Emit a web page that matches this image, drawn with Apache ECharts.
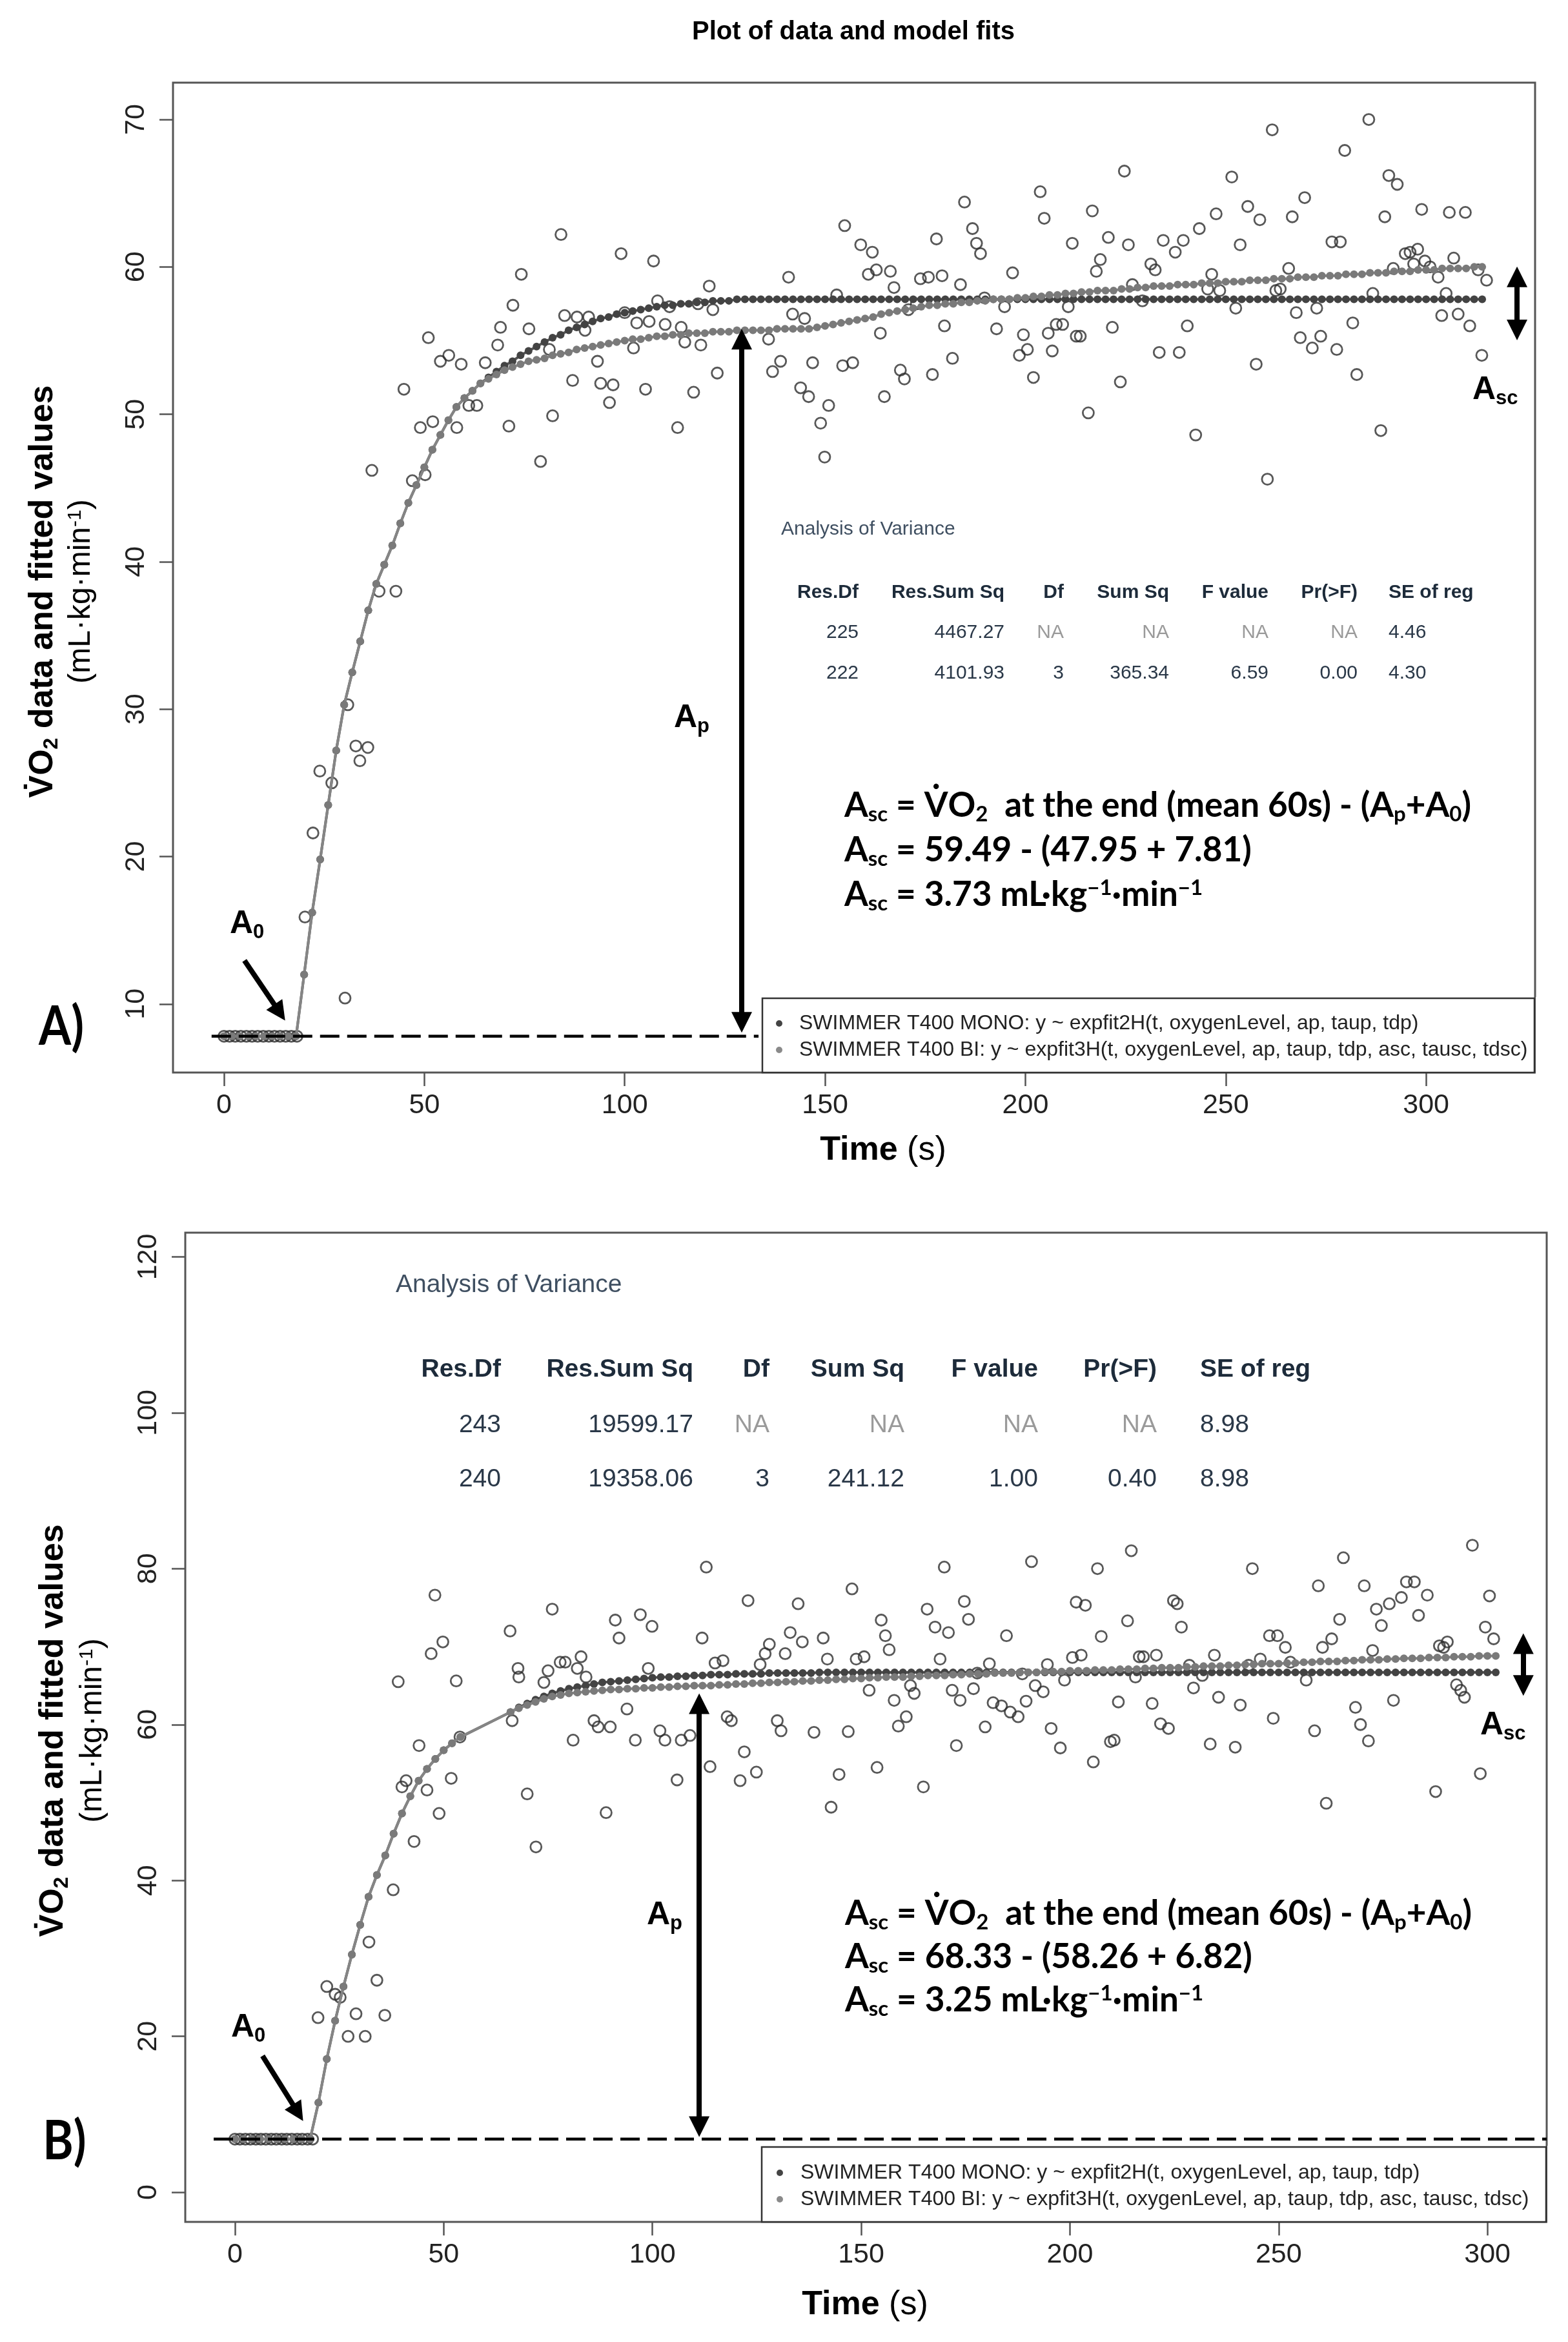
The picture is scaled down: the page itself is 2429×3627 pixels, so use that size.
<!DOCTYPE html>
<html><head><meta charset="utf-8">
<script src="https://cdn.jsdelivr.net/npm/echarts@6/dist/echarts.min.js"></script>
<style>html,body{margin:0;padding:0;background:#fff}#c{width:2429px;height:3627px}</style>
</head><body><div id="c"></div>
<script>
// ---------------- DATA ----------------
// Panel A observed VO2 (time s, value)
const tA = [0,1.4,2.8,4.2,5.6,7.0,8.4,9.8,11.2,12.6,14.0,15.4,16.8,18.2,
20.2,22.2,23.9,26.9,30.2,30.9,32.9,33.9,35.9,36.9,38.7,42.9,44.9,47.0,49.0,50.2,51.0,52.1,54.0,56.1,58.1,59.2,
61.1,63.1,65.2,68.3,69.0,71.1,72.1,74.2,76.1,79.0,81.2,82.0,84.1,85.0,87.0,88.1,90.1,91.0,93.2,94.0,96.2,97.1,99.1,
100.0,102.2,103.0,105.2,106.1,107.2,108.2,110.1,111.2,113.2,114.1,115.0,117.2,118.3,119.0,121.1,122.0,123.1,
135.9,136.9,138.9,140.9,141.9,143.9,144.9,145.9,146.9,148.9,149.9,150.9,152.9,154.4,154.9,156.9,158.9,
160.8,161.8,162.8,163.8,164.8,166.3,167.2,168.8,169.8,170.8,172.8,173.8,175.8,176.8,177.8,179.2,179.8,181.8,183.8,
184.8,186.8,187.8,188.8,189.8,192.8,194.8,196.8,198.5,199.5,200.5,202.0,203.7,204.7,205.7,206.7,207.7,209.3,
210.7,211.7,212.7,213.7,215.7,216.7,217.7,218.7,220.7,221.7,223.7,224.7,225.7,226.7,229.2,231.3,232.4,233.4,234.4,
237.4,238.4,239.4,240.4,242.5,243.4,245.5,246.5,247.6,248.5,251.5,252.5,253.6,255.5,257.6,258.5,260.4,261.6,262.5,
263.6,265.7,266.6,267.6,268.6,269.7,271.6,272.7,273.7,276.5,277.7,278.6,279.7,281.7,282.7,285.7,286.7,288.7,289.7,
290.7,291.8,292.8,294.8,296.0,296.9,297.9,298.9,299.7,301.0,303.0,303.9,305.0,305.8,306.9,308.0,309.8,310.9,313.0,313.9,315.1];
const vA = [7.81,7.81,7.81,7.81,7.81,7.81,7.81,7.81,7.81,7.81,7.81,7.81,7.81,7.81,
15.9,21.6,25.8,25.0,10.4,30.3,27.5,26.5,27.4,46.2,38.0,38.0,51.7,45.5,49.1,45.9,55.2,49.5,53.6,54.0,49.1,53.4,
50.6,50.6,53.5,54.7,55.9,49.2,57.4,59.5,55.8,46.8,54.4,49.9,62.2,56.7,52.3,56.6,55.7,56.6,53.6,52.1,50.8,52.0,60.9,
56.9,54.5,56.2,51.7,56.3,60.4,57.7,56.1,57.3,49.1,55.9,54.9,51.5,57.5,54.7,58.7,57.1,52.8,
55.1,52.9,53.6,59.3,56.8,51.8,56.5,51.2,53.5,49.4,47.1,50.6,58.1,53.3,62.8,53.5,61.5,
59.5,61.0,59.8,55.5,51.2,59.7,58.6,53.0,52.4,57.1,57.5,59.2,59.3,52.7,61.9,59.4,56.0,53.8,58.8,
64.4,62.6,61.6,60.9,57.9,55.8,57.3,59.6,54.0,55.4,54.4,52.5,65.1,63.3,55.5,54.3,56.1,56.1,
57.3,61.6,55.3,55.3,50.1,63.8,59.7,60.5,62.0,55.9,52.2,66.5,61.5,58.8,57.7,60.2,59.8,54.2,61.8,
61.0,54.2,61.8,56.0,48.6,62.6,58.5,59.5,63.6,58.4,66.1,57.2,61.5,64.1,53.4,63.2,45.6,69.3,58.4,
58.5,59.9,63.4,56.9,55.2,64.7,54.5,57.2,55.3,61.7,54.4,61.7,67.9,56.2,52.7,70.0,58.2,48.9,63.4,
66.2,59.9,65.6,60.9,61.0,60.2,61.2,63.9,60.4,60.0,59.3,56.7,58.2,63.7,60.6,56.8,63.7,56.0,59.8,54.0,59.1];

// Panel B observed VO2
const tB = [0,1.2,2.5,3.7,5.0,6.2,7.4,8.7,9.9,11.2,12.4,13.6,14.9,16.1,17.4,18.6,
19.9,22.0,24.0,25.2,27.1,29.0,31.2,32.1,34.0,35.9,37.9,39.1,40.0,41.0,42.9,44.1,46.0,47.0,47.9,48.9,49.8,51.8,53.0,53.9,
65.9,66.4,67.8,68.0,70.0,72.1,74.0,75.0,76.0,77.9,79.1,81.0,82.0,82.9,84.1,86.0,87.0,88.9,89.9,91.1,92.0,93.9,95.9,97.1,99.0,99.9,
101.8,103.0,105.9,106.9,109.0,111.9,112.9,113.8,115.0,116.9,117.9,118.9,121.0,122.0,122.9,124.9,125.8,127.0,128.0,129.9,
130.8,131.8,133.0,134.9,135.9,138.7,140.9,141.9,142.8,144.7,146.9,147.8,148.8,150.7,151.9,153.8,154.8,155.8,156.7,157.9,158.9,
160.8,161.8,162.7,164.9,165.8,167.7,168.9,169.9,170.9,171.8,172.8,173.7,174.7,175.7,176.9,177.8,179.7,180.7,181.6,183.6,184.8,
185.7,187.6,188.6,189.5,190.8,191.7,193.6,194.6,195.5,197.7,198.7,200.6,201.5,202.7,203.7,205.6,206.6,207.5,209.7,210.6,211.6,
213.8,214.7,215.7,216.6,217.6,219.7,220.7,221.7,223.6,224.8,225.7,226.7,228.6,229.6,231.7,233.6,234.6,235.6,239.6,240.8,242.8,
243.7,245.6,247.8,248.7,249.7,251.6,252.8,256.6,258.6,259.5,260.5,261.4,262.7,264.6,265.5,268.4,269.6,270.5,271.5,272.5,273.4,
274.6,276.5,277.5,279.4,280.6,282.5,283.5,285.6,287.6,288.5,289.5,290.4,292.6,293.6,294.5,296.4,298.3,299.5,300.5,301.5];
const vB = [6.82,6.82,6.82,6.82,6.82,6.82,6.82,6.82,6.82,6.82,6.82,6.82,6.82,6.82,6.82,6.82,
22.4,26.4,25.4,25.0,20.0,22.9,20.0,32.1,27.2,22.7,38.8,65.5,52.0,52.8,45.0,57.3,51.6,69.1,76.6,48.6,70.6,53.1,65.6,58.4,
72.0,60.5,67.2,66.1,51.1,44.3,65.4,66.9,74.8,68.0,68.0,58.0,67.2,68.7,66.1,60.5,59.7,48.7,59.7,73.4,71.1,62.0,58.0,74.1,67.2,72.6,
59.2,58.0,52.9,58.0,58.6,71.1,80.2,54.6,67.9,68.2,61.0,60.5,52.8,56.5,75.9,53.9,67.7,69.1,70.3,60.5,
59.2,69.1,71.8,75.5,70.6,59.0,71.1,68.4,49.4,53.6,59.1,77.4,68.4,68.7,64.4,54.5,73.4,71.4,69.6,63.1,59.8,
61.0,65.0,64.0,52.0,74.8,72.5,68.4,80.2,71.8,64.4,57.3,63.1,75.8,73.5,64.6,66.6,59.7,67.8,62.8,62.4,71.4,
61.6,61.0,66.5,63.0,80.9,65.0,64.2,67.7,59.5,57.0,65.7,68.6,75.7,68.9,75.3,55.2,80.0,71.3,57.8,58.0,62.9,
73.3,82.3,66.1,68.7,68.7,62.7,68.9,60.1,59.5,75.9,75.5,72.5,67.6,64.7,66.3,57.5,68.9,63.5,57.1,62.5,67.6,
80.0,68.4,71.4,60.8,71.4,69.9,68.0,65.7,59.2,77.8,69.9,49.9,71.0,73.5,81.4,62.2,60.0,77.8,57.9,69.5,74.8,
72.7,75.5,63.1,76.3,78.3,78.3,74.0,76.6,51.4,70.1,69.9,70.6,65.1,64.4,63.5,83.0,53.7,72.5,76.5,71.0];

// Fitted values, panel A (mono- and bi-exponential model)
const fitTA = [0,2,4,6,8,10,12,14,16,18,
20,22,24,26,28,30,32,34,36,38,
40,42,44,46,48,50,52,54,56,58,
60,62,64,66,68,70,72,74,76,78,
80,82,84,86,88,90,92,94,96,98,
100,102,104,106,108,110,112,114,116,118,
120,122,124,126,128,130,132,134,136,138,
140,142,144,146,148,150,152,154,156,158,
160,162,164,166,168,170,172,174,176,178,
180,182,184,186,188,190,192,194,196,198,
200,202,204,206,208,210,212,214,216,218,
220,222,224,226,228,230,232,234,236,238,
240,242,244,246,248,250,252,254,256,258,
260,262,264,266,268,270,272,274,276,278,
280,282,284,286,288,290,292,294,296,298,
300,302,304,306,308,310,312,314];
const monoA = [7.81,7.81,7.81,7.81,7.81,7.81,7.81,7.81,7.81,7.81,
12.0,16.2,19.8,23.5,27.2,30.3,32.5,34.6,36.7,38.5,
39.8,41.1,42.6,44.0,45.2,46.4,47.6,48.6,49.6,50.5,
51.1,51.6,52.1,52.5,52.9,53.3,53.6,54.0,54.3,54.6,
54.9,55.2,55.4,55.7,55.9,56.1,56.3,56.5,56.6,56.8,
56.9,57.0,57.1,57.2,57.3,57.4,57.4,57.5,57.5,57.6,
57.6,57.7,57.7,57.7,57.8,57.8,57.8,57.8,57.8,57.8,
57.8,57.8,57.8,57.8,57.8,57.8,57.8,57.8,57.8,57.8,
57.8,57.8,57.8,57.8,57.8,57.8,57.8,57.8,57.8,57.8,
57.8,57.8,57.8,57.8,57.8,57.8,57.8,57.8,57.8,57.8,
57.8,57.8,57.8,57.8,57.8,57.8,57.8,57.8,57.8,57.8,
57.8,57.8,57.8,57.8,57.8,57.8,57.8,57.8,57.8,57.8,
57.8,57.8,57.8,57.8,57.8,57.8,57.8,57.8,57.8,57.8,
57.8,57.8,57.8,57.8,57.8,57.8,57.8,57.8,57.8,57.8,
57.8,57.8,57.8,57.8,57.8,57.8,57.8,57.8,57.8,57.8,
57.8,57.8,57.8,57.8,57.8,57.8,57.8,57.8];
const biA = [7.81,7.81,7.81,7.81,7.81,7.81,7.81,7.81,7.81,7.81,
12.0,16.2,19.8,23.5,27.2,30.3,32.5,34.6,36.7,38.5,
39.8,41.1,42.6,44.0,45.2,46.4,47.6,48.6,49.6,50.5,
51.1,51.6,52.1,52.4,52.7,53.0,53.2,53.4,53.6,53.7,
53.8,54.0,54.1,54.2,54.4,54.5,54.6,54.7,54.8,54.9,
55.0,55.1,55.1,55.2,55.3,55.3,55.4,55.4,55.5,55.5,
55.5,55.6,55.6,55.6,55.7,55.7,55.7,55.7,55.7,55.8,
55.8,55.8,55.8,55.8,55.9,56.0,56.1,56.2,56.3,56.4,
56.5,56.6,56.8,56.9,57.0,57.1,57.2,57.3,57.4,57.4,
57.5,57.5,57.6,57.6,57.7,57.7,57.8,57.8,57.8,57.9,
57.9,58.0,58.0,58.1,58.1,58.2,58.2,58.3,58.3,58.4,
58.4,58.4,58.5,58.5,58.6,58.6,58.7,58.7,58.7,58.8,
58.8,58.8,58.9,58.9,58.9,59.0,59.0,59.0,59.1,59.1,
59.1,59.2,59.2,59.2,59.3,59.3,59.3,59.4,59.4,59.4,
59.5,59.5,59.5,59.6,59.6,59.6,59.7,59.7,59.7,59.8,
59.8,59.8,59.9,59.9,59.9,59.9,60.0,60.0];

// Fitted values, panel B
const fitTB = [0,2,4,6,8,10,12,14,16,18,
20,22,24,26,28,30,32,34,36,38,
40,42,44,46,48,50,52,54,
66,68,70,72,74,76,78,80,82,84,
86,88,90,92,94,96,98,100,102,104,
106,108,110,112,114,116,118,120,122,124,
126,128,130,132,134,136,138,140,142,144,
146,148,150,152,154,156,158,160,162,164,
166,168,170,172,174,176,178,180,182,184,
186,188,190,192,194,196,198,200,202,204,
206,208,210,212,214,216,218,220,222,224,
226,228,230,232,234,236,238,240,242,244,
246,248,250,252,254,256,258,260,262,264,
266,268,270,272,274,276,278,280,282,284,
286,288,290,292,294,296,298,300,302];
const monoB = [6.82,6.82,6.82,6.82,6.82,6.82,6.82,6.82,6.82,6.82,
11.5,17.1,22.0,26.4,30.5,34.3,37.9,40.7,43.2,46.0,
48.6,50.8,52.8,54.3,55.6,56.7,57.6,58.4,
61.6,62.2,62.7,63.2,63.6,64.0,64.3,64.6,64.8,65.0,
65.2,65.4,65.5,65.6,65.7,65.8,65.9,66.0,66.1,66.1,
66.2,66.2,66.3,66.3,66.4,66.4,66.4,66.5,66.5,66.5,
66.5,66.6,66.6,66.6,66.6,66.6,66.6,66.7,66.7,66.7,
66.7,66.7,66.7,66.7,66.7,66.7,66.7,66.7,66.7,66.7,
66.7,66.7,66.7,66.7,66.7,66.7,66.7,66.7,66.7,66.7,
66.7,66.7,66.7,66.7,66.7,66.7,66.7,66.7,66.7,66.7,
66.7,66.7,66.7,66.7,66.7,66.7,66.7,66.7,66.7,66.7,
66.7,66.7,66.7,66.7,66.7,66.7,66.7,66.7,66.7,66.7,
66.7,66.7,66.7,66.7,66.7,66.7,66.7,66.7,66.7,66.7,
66.7,66.7,66.7,66.7,66.7,66.7,66.7,66.7,66.7,66.7,
66.7,66.7,66.7,66.7,66.7,66.7,66.7,66.7,66.7];
const biB = [6.82,6.82,6.82,6.82,6.82,6.82,6.82,6.82,6.82,6.82,
11.5,17.1,22.0,26.4,30.5,34.3,37.9,40.7,43.2,46.0,
48.6,50.8,52.8,54.3,55.6,56.7,57.6,58.4,
61.6,62.1,62.5,62.9,63.3,63.6,63.8,64.0,64.1,64.2,
64.3,64.4,64.5,64.5,64.6,64.6,64.7,64.7,64.8,64.8,
64.9,64.9,65.0,65.0,65.0,65.1,65.1,65.2,65.2,65.3,
65.3,65.4,65.4,65.5,65.5,65.6,65.6,65.7,65.7,65.8,
65.8,65.9,65.9,66.0,66.0,66.1,66.1,66.1,66.2,66.2,
66.3,66.3,66.3,66.4,66.4,66.5,66.5,66.5,66.6,66.6,
66.6,66.7,66.7,66.7,66.8,66.8,66.8,66.9,66.9,66.9,
67.0,67.0,67.0,67.1,67.1,67.1,67.2,67.2,67.3,67.3,
67.3,67.4,67.4,67.5,67.5,67.5,67.6,67.6,67.7,67.7,
67.8,67.8,67.8,67.9,67.9,68.0,68.0,68.1,68.1,68.1,
68.2,68.2,68.3,68.3,68.3,68.4,68.4,68.5,68.5,68.5,
68.6,68.6,68.6,68.7,68.7,68.7,68.8,68.8,68.8];

const A0A = 7.81, A0B = 6.82;
const xTicksA = [0,50,100,150,200,250,300];
const yTicksA = [10,20,30,40,50,60,70];
const xTicksB = [0,50,100,150,200,250,300];
const yTicksB = [0,20,40,60,80,100,120];

const anovaHeaders = ['Res.Df','Res.Sum Sq','Df','Sum Sq','F value','Pr(>F)','SE of reg'];
const anovaA = [['225','4467.27','NA','NA','NA','NA','4.46'],['222','4101.93','3','365.34','6.59','0.00','4.30']];
const anovaB = [['243','19599.17','NA','NA','NA','NA','8.98'],['240','19358.06','3','241.12','1.00','0.40','8.98']];
const legendLabels = ['SWIMMER T400 MONO: y ~ expfit2H(t, oxygenLevel, ap, taup, tdp)',
                      'SWIMMER T400 BI: y ~ expfit3H(t, oxygenLevel, ap, taup, tdp, asc, tausc, tdsc)'];
const formulaA = {end:'59.49', ap:'47.95', a0:'7.81', asc:'3.73'};
const formulaB = {end:'68.33', ap:'58.26', a0:'6.82', asc:'3.25'};

// annotation arrows in data coordinates
const arrowApA  = [[129.2, 8.76],[129.2, 55.10]];
const arrowAscA = [[322.7, 55.72],[322.7, 59.33]];
const arrowA0A  = [[5.1, 12.95],[13.9, 9.42]];
const arrowApB  = [[111.2, 8.42],[111.2, 62.68]];
const arrowAscB = [[308.6, 65.02],[308.6, 70.38]];
const arrowA0B  = [[6.6, 17.5],[15.1, 10.2]];

// ---------------- CHART ----------------
const SANS = "'Liberation Sans', Arial, Helvetica, sans-serif";
const LATO = "Lato, 'Liberation Sans', sans-serif";
const chart = echarts.init(document.getElementById('c'), null, {renderer:'canvas', width:2429, height:3627});

const pairs = (xs, ys) => xs.map((x,i) => [x, ys[i]]);

function xAx(gi, min, max, ticks){
  return {gridIndex:gi, type:'value', min, max,
    axisLine:{show:false, onZero:false}, splitLine:{show:false},
    axisTick:{show:true, inside:false, length:21, customValues:ticks, lineStyle:{color:'#555', width:2.5}},
    axisLabel:{show:true, customValues:ticks, margin:30, fontSize:43, fontFamily:SANS, color:'#222'}};
}
function yAx(gi, min, max, ticks){
  return {gridIndex:gi, type:'value', min, max,
    axisLine:{show:false, onZero:false}, splitLine:{show:false},
    axisTick:{show:true, inside:false, length:21, customValues:ticks, lineStyle:{color:'#555', width:2.5}},
    axisLabel:{show:true, customValues:ticks, rotate:90, margin:35, fontSize:43, fontFamily:SANS, color:'#222'}};
}
function panelSeries(gi, t, v, ft, mono, bi, a0, a0From, a0To, dbl, single){
  return [
    {type:'scatter', xAxisIndex:gi, yAxisIndex:gi, data:pairs(t,v), symbol:'circle', symbolSize:17, z:2,
      itemStyle:{color:'rgba(0,0,0,0)', borderColor:'#2e2e2e', borderWidth:2.8}},
    {type:'line', xAxisIndex:gi, yAxisIndex:gi, data:pairs(ft,mono), symbol:'circle', symbolSize:12, showSymbol:true, z:3,
      itemStyle:{color:'#434343'}, lineStyle:{color:'#555', width:4}},
    {type:'line', xAxisIndex:gi, yAxisIndex:gi, data:pairs(ft,bi), symbol:'circle', symbolSize:12, showSymbol:true, z:4,
      itemStyle:{color:'#7a7a7a'}, lineStyle:{color:'#858585', width:4}},
    {type:'line', xAxisIndex:gi, yAxisIndex:gi, data:[[a0From,a0],[a0To,a0]], symbol:'none', z:5,
      lineStyle:{color:'#000', width:4.5, type:[30,12]}},
    {type:'lines', coordinateSystem:'cartesian2d', xAxisIndex:gi, yAxisIndex:gi, z:6,
      symbol:['triangle','triangle'], symbolSize:32, lineStyle:{color:'#000', width:8, opacity:1},
      data:dbl.map(c => ({coords:c}))},
    {type:'lines', coordinateSystem:'cartesian2d', xAxisIndex:gi, yAxisIndex:gi, z:6,
      symbol:['none','triangle'], symbolSize:30, lineStyle:{color:'#000', width:8, opacity:1},
      data:single.map(c => ({coords:c}))}
  ];
}

// text helpers
function T(x, y, text, o){
  o = o || {};
  const al = o.align || 'left', va = o.va || 'middle';
  const st = {text:text, x:0, y:0, fill:o.color || '#000', fontSize:o.size || 30, fontFamily:o.font || SANS,
    fontWeight:o.weight || 'normal', align:al, textAlign:al, verticalAlign:va, textVerticalAlign:va, legacy:false};
  if (o.rich) st.rich = o.rich;
  return {type:'text', x:x, y:y, rotation:o.rot || 0, scaleX:o.sx || 1, scaleY:o.sy || 1, z:60, silent:true, style:st};
}
function rs(fam, size, weight, color){
  const sub = Math.round(size*0.62);
  const b = {fontFamily:fam, fontWeight:weight, fill:color};
  return {
    n:Object.assign({fontSize:size, lineHeight:size, verticalAlign:'top'}, b),
    s:Object.assign({fontSize:sub, lineHeight:sub, verticalAlign:'top', padding:[Math.round(size*0.45),0,0,0]}, b),
    u:Object.assign({fontSize:sub, lineHeight:sub, verticalAlign:'top'}, b)
  };
}
const labRich = rs(SANS, 50, 'bold', '#000');
const frmRich = rs(LATO, 53, 'bold', '#000');

function anovaEls(c, rows){
  const els = [T(c.left, c.titleY, 'Analysis of Variance', {size:c.size, color:'#3f4f61'})];
  anovaHeaders.forEach((h,i) => {
    const last = i === 6;
    els.push(T(last ? c.seLeft : c.rights[i], c.headY, h, {size:c.size, weight:'bold', color:'#1d2b3a', align:last ? 'left' : 'right'}));
  });
  rows.forEach((r,ri) => r.forEach((v,i) => {
    const last = i === 6;
    els.push(T(last ? c.seLeft : c.rights[i], c.rowY[ri], v, {size:c.size, color:v === 'NA' ? '#9a9a9a' : '#2a3848', align:last ? 'left' : 'right'}));
  }));
  return els;
}
function legendEls(c){
  return [
    {type:'rect', z:50, silent:true, shape:{x:c.x, y:c.y, width:c.w, height:c.h}, style:{fill:'#fff', stroke:'#333', lineWidth:2.5}},
    {type:'circle', z:61, silent:true, shape:{cx:c.bx, cy:c.y1, r:5}, style:{fill:'#444'}},
    {type:'circle', z:61, silent:true, shape:{cx:c.bx, cy:c.y2, r:5}, style:{fill:'#8a8a8a'}},
    T(c.tx, c.y1, legendLabels[0], {size:c.size, color:'#222'}),
    T(c.tx, c.y2, legendLabels[1], {size:c.size, color:'#222'}),
    {type:'rect', z:62, silent:true, shape:{x:c.x + c.w + 2, y:c.y - 2, width:60, height:c.h + 6}, style:{fill:'#fff'}}
  ];
}
function formulaEls(x, ys, f){
  return [
    T(x, ys[0], '{n|A}{s|sc}{n| = V\u0307O}{s|2}{n|  at the end (mean 60s) - (A}{s|p}{n|+A}{s|0}{n|)}', {va:'top', rich:frmRich}),
    T(x, ys[1], '{n|A}{s|sc}{n| = ' + f.end + ' - (' + f.ap + ' + ' + f.a0 + ')}', {va:'top', rich:frmRich}),
    T(x, ys[2], '{n|A}{s|sc}{n| = ' + f.asc + ' mL\u00b7kg}{u|\u22121}{n|\u00b7min}{u|\u22121}', {va:'top', rich:frmRich})
  ];
}
function yTitleEls(x1, x2, yc){
  return [
    T(x1, yc, '{n|V\u0307O}{s|2}{n| data and fitted values}', {va:'top', align:'center', rot:Math.PI/2, rich:rs(SANS, 52, 'bold', '#000')}),
    T(x2, yc, '{n|(mL\u00b7kg\u00b7min}{u|-1}{n|)}', {va:'top', align:'center', rot:Math.PI/2, rich:rs(SANS, 48, 'normal', '#000')})
  ];
}
function xTitle(x, y){
  return T(x, y, '{b|Time}{r| (s)}', {align:'center', rich:{
    b:{fontFamily:SANS, fontSize:52, fontWeight:'bold', fill:'#000'},
    r:{fontFamily:SANS, fontSize:52, fontWeight:'normal', fill:'#000'}}});
}

const graphics = [].concat(
  [T(1322, 50, 'Plot of data and model fits', {size:40, weight:'bold', align:'center'})],
  [T(95, 1591, 'A)', {size:85, weight:'bold', font:LATO, align:'center', sx:0.85}),
   T(100, 3317, 'B)', {size:85, weight:'bold', font:LATO, align:'center', sx:0.85})],
  yTitleEls(41, 102, 916), yTitleEls(57, 120, 2680),
  [xTitle(1368, 1782), xTitle(1340, 3570)],
  anovaEls({left:1210, titleY:820, headY:918, rowY:[980,1043], rights:[1330,1556,1648,1811,1965,2103], seLeft:2151, size:30}, anovaA),
  anovaEls({left:613, titleY:1990, headY:2121, rowY:[2207,2291], rights:[776,1074,1192,1401,1608,1792], seLeft:1859, size:39}, anovaB),
  legendEls({x:1181, y:1546, w:1196, h:115, bx:1207, tx:1238, y1:1585, y2:1626, size:32}),
  legendEls({x:1180, y:3325, w:1215, h:116, bx:1208, tx:1240, y1:3365, y2:3406, size:32}),
  formulaEls(1308, [1221, 1290, 1359], formulaA),
  formulaEls(1309, [2937, 3004, 3071], formulaB),
  [T(1044, 1087, '{n|A}{s|p}', {va:'top', rich:labRich}),
   T(1002, 2941, '{n|A}{s|p}', {va:'top', rich:labRich}),
   T(356, 1406, '{n|A}{s|0}', {va:'top', rich:labRich}),
   T(358, 3115, '{n|A}{s|0}', {va:'top', rich:labRich}),
   T(2281, 579, '{n|A}{s|sc}', {va:'top', rich:labRich}),
   T(2293, 2647, '{n|A}{s|sc}', {va:'top', rich:labRich})]
);

const option = {
  animation:false,
  backgroundColor:'#fff',
  grid:[
    {left:268, top:128, width:2110, height:1533, show:true, borderColor:'#555', borderWidth:3, backgroundColor:'rgba(0,0,0,0)'},
    {left:287, top:1909, width:2109, height:1532, show:true, borderColor:'#555', borderWidth:3, backgroundColor:'rgba(0,0,0,0)'}
  ],
  xAxis:[xAx(0, -12.73, 327.2, xTicksA), xAx(1, -11.9, 314.2, xTicksB)],
  yAxis:[yAx(0, 5.35, 72.5, yTicksA), yAx(1, -3.8, 123.1, yTicksB)],
  series:[].concat(
    panelSeries(0, tA, vA, fitTA, monoA, biA, A0A, -3.1, 133.4, [arrowApA, arrowAscA], [arrowA0A]),
    panelSeries(1, tB, vB, fitTB, monoB, biB, A0B, -5.1, 314.2, [arrowApB, arrowAscB], [arrowA0B])
  ),
  graphic:{elements:graphics}
};
chart.setOption(option);
</script>
</body></html>
